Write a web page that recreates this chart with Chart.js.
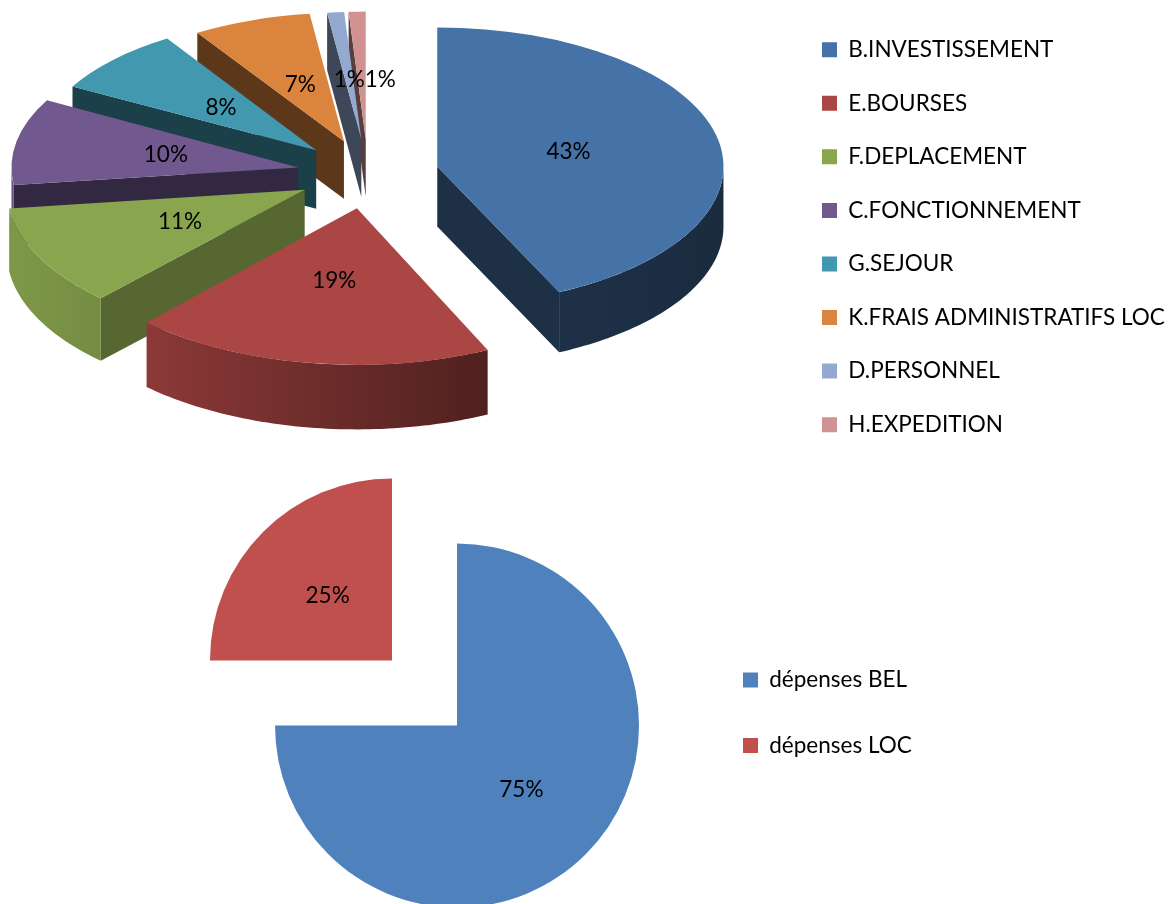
<!DOCTYPE html>
<html>
<head>
<meta charset="utf-8">
<script src="https://cdn.jsdelivr.net/npm/chart.js@4/dist/chart.umd.min.js"></script>
<style>
  html, body { margin: 0; padding: 0; background: #fff; overflow: hidden; }
  body { width: 1170px; height: 904px; position: relative; }
  .box { position: absolute; }
</style>
</head>
<body>
<div class="box" style="left:-55px; top:-119px; width:1300px; height:586px;"><canvas id="chart-postes"></canvas></div>
<div class="box" style="left:0; top:450px; width:1170px; height:454px;"><canvas id="chart-origine"></canvas></div>
<script>
// postes de dépenses (camembert 3D)
var categories = ["B.INVESTISSEMENT", "E.BOURSES", "F.DEPLACEMENT", "C.FONCTIONNEMENT",
                  "G.SEJOUR", "K.FRAIS ADMINISTRATIFS LOC", "D.PERSONNEL", "H.EXPEDITION"];
var parts = [43, 19, 11, 10, 8, 7, 1, 1];
var partColors = ["#4572A7", "#AA4643", "#89A54E", "#71588F", "#4198AF", "#DB843D", "#93A9CF", "#D19392"];

// origine des dépenses
var origins = ["dépenses BEL", "dépenses LOC"];
var originParts = [75, 25];
var originColors = ["#4F81BD", "#C0504D"];

var FONT = "Lato";
var FONT_SIZE = 22.5;
var BOX = 15;

function shade(hex, f) {
    var n = parseInt(hex.slice(1), 16);
    var r = (n >> 16) & 255, g = (n >> 8) & 255, b = n & 255;
    return "rgb(" + Math.round(r * f) + "," + Math.round(g * f) + "," + Math.round(b * f) + ")";
}

// géométrie d'une part : sommet éclaté + échelles (perspective simple)
function sliceGeom(arc, opts) {
    var m = (arc.startAngle + arc.endAngle) / 2;
    var front = Math.sin(m);
    return {
        m: m,
        ax: arc.x + Math.cos(m) * opts.explode,
        ay: arc.y + Math.sin(m) * opts.explode * opts.squash,
        sx: 1 + opts.grow * front,
        sy: opts.squash + opts.tilt * front
    };
}

var pie3d = {
    id: "pie3d",
    beforeDatasetDraw: function(chart, args, opts) {
        var ctx = chart.ctx;
        var arcs = args.meta.data;
        var colors = chart.data.datasets[0].backgroundColor;
        var cx = arcs[0].x, cy = arcs[0].y, R = arcs[0].outerRadius;
        var geo = arcs.map(function(arc) { return sliceGeom(arc, opts); });

        if (opts.depth > 0) {
            var left = cx - R - opts.explode, right = cx + R + opts.explode;
            var order = arcs.map(function(a, i) { return i; });
            order.sort(function(i, j) { return Math.sin(geo[i].m) - Math.sin(geo[j].m); });

            order.forEach(function(i) {
                var arc = arcs[i], s = arc.startAngle, e = arc.endAngle, G = geo[i];
                var depth = opts.depth * G.sx;
                var col = colors[i];
                function pt(a) { return [G.ax + Math.cos(a) * R * G.sx, G.ay + Math.sin(a) * R * G.sy]; }

                function wall(p, psi) {
                    ctx.beginPath();
                    ctx.moveTo(G.ax, G.ay);
                    ctx.lineTo(p[0], p[1]);
                    ctx.lineTo(p[0], p[1] + depth);
                    ctx.lineTo(G.ax, G.ay + depth);
                    ctx.closePath();
                    ctx.fillStyle = shade(col, 0.42 + 0.28 * Math.max(0, Math.cos(psi)));
                    ctx.fill();
                }
                if (Math.cos(s) < -1e-6) wall(pt(s), s - Math.PI / 2);
                if (Math.cos(e) > 1e-6) wall(pt(e), e + Math.PI / 2);

                // paroi extérieure visible
                var a0 = Math.max(s, 0), a1 = Math.min(e, Math.PI);
                if (a1 > a0) {
                    var n = Math.max(2, Math.ceil((a1 - a0) / 0.02));
                    var j, p;
                    ctx.beginPath();
                    for (j = 0; j <= n; j++) {
                        p = pt(a0 + (a1 - a0) * j / n);
                        if (j === 0) ctx.moveTo(p[0], p[1]); else ctx.lineTo(p[0], p[1]);
                    }
                    for (j = n; j >= 0; j--) {
                        p = pt(a0 + (a1 - a0) * j / n);
                        ctx.lineTo(p[0], p[1] + depth);
                    }
                    ctx.closePath();
                    var g = ctx.createLinearGradient(left, 0, right, 0);
                    g.addColorStop(0, shade(col, 0.92));
                    g.addColorStop(0.2, shade(col, 0.82));
                    g.addColorStop(0.68, shade(col, 0.45));
                    g.addColorStop(1, shade(col, 0.38));
                    ctx.fillStyle = g;
                    ctx.fill();
                }
            });
        }

        // dessus des parts, dessinés par Chart.js
        arcs.forEach(function(arc, i) {
            var G = geo[i];
            ctx.save();
            ctx.translate(G.ax, G.ay);
            ctx.scale(G.sx, G.sy);
            ctx.translate(-cx, -cy);
            arc.draw(ctx);
            ctx.restore();
        });
        return false;
    },
    afterDatasetsDraw: function(chart, args, opts) {
        var ctx = chart.ctx;
        var arcs = chart.getDatasetMeta(0).data;
        var vals = chart.data.datasets[0].data;
        var total = vals.reduce(function(a, b) { return a + b; }, 0);
        var R = arcs[0].outerRadius;
        var placed = [];
        ctx.save();
        ctx.font = FONT_SIZE + "px " + FONT;
        ctx.fillStyle = "#000";
        ctx.textAlign = "left";
        ctx.textBaseline = "middle";
        arcs.forEach(function(arc, i) {
            var G = sliceGeom(arc, opts);
            var r = R * opts.labelAt;
            var x = G.ax + Math.cos(G.m) * r * G.sx, y = G.ay + Math.sin(G.m) * r * G.sy;
            var text = Math.round(vals[i] / total * 100) + "%";
            var w = ctx.measureText(text).width;
            var lx = x - w / 2;
            // les petites étiquettes se poussent vers la droite
            placed.forEach(function(b) {
                if (Math.abs(b.y - y) < FONT_SIZE && lx < b.right && lx + w > b.left) lx = b.right;
            });
            ctx.fillText(text, lx, y);
            placed.push({ left: lx, right: lx + w, y: y });
        });
        ctx.restore();
    }
};

// largeur de légende telle que Chart.js la calcule
function legendWidth(labels, pad) {
    var c = document.createElement("canvas").getContext("2d");
    c.font = FONT_SIZE + "px " + FONT;
    var w = Math.max.apply(null, labels.map(function(t) { return c.measureText(t).width; }));
    return pad + BOX + FONT_SIZE / 2 + w + 10;
}

function legendOpts(pad) {
    return {
        position: "right",
        align: "end",
        labels: {
            boxWidth: BOX,
            boxHeight: BOX,
            padding: pad,
            color: "#000",
            font: { family: FONT, size: FONT_SIZE }
        }
    };
}

document.addEventListener("DOMContentLoaded", function() {
    // camembert 3D : canevas décalé de -55 px, carrés de légende à x=822
    var padTop = 53.57 - FONT_SIZE;
    var legLeftTop = 822 + 55 - padTop;
    new Chart(document.getElementById("chart-postes"), {
        type: "pie",
        data: {
            labels: categories,
            datasets: [{ data: parts, backgroundColor: partColors, borderWidth: 0 }]
        },
        options: {
            responsive: true,
            maintainAspectRatio: false,
            animation: false,
            events: [],
            radius: 290,
            layout: { padding: { left: 0, top: 0, bottom: 0,
                right: 1300 - legLeftTop - legendWidth(categories, padTop) } },
            plugins: {
                legend: legendOpts(padTop),
                tooltip: { enabled: false },
                pie3d: { explode: 71, squash: 0.49, tilt: 0.05, grow: 0.06, depth: 61, labelAt: 0.47 }
            }
        },
        plugins: [pie3d]
    });

    var padBot = 65.5 - FONT_SIZE;
    var legLeftBot = 743 - padBot;
    new Chart(document.getElementById("chart-origine"), {
        type: "pie",
        data: {
            labels: origins,
            datasets: [{ data: originParts, backgroundColor: originColors, borderWidth: 0 }]
        },
        options: {
            responsive: true,
            maintainAspectRatio: false,
            animation: false,
            events: [],
            radius: 182,
            layout: { padding: { left: 2 * 424.5 - legLeftBot, top: 136.3, bottom: 104.3,
                right: 1170 - legLeftBot - legendWidth(origins, padBot) } },
            plugins: {
                legend: legendOpts(padBot),
                tooltip: { enabled: false },
                pie3d: { explode: 46, squash: 1, tilt: 0, grow: 0, depth: 0, labelAt: 0.5 }
            }
        },
        plugins: [pie3d]
    });
});
</script>
</body>
</html>
